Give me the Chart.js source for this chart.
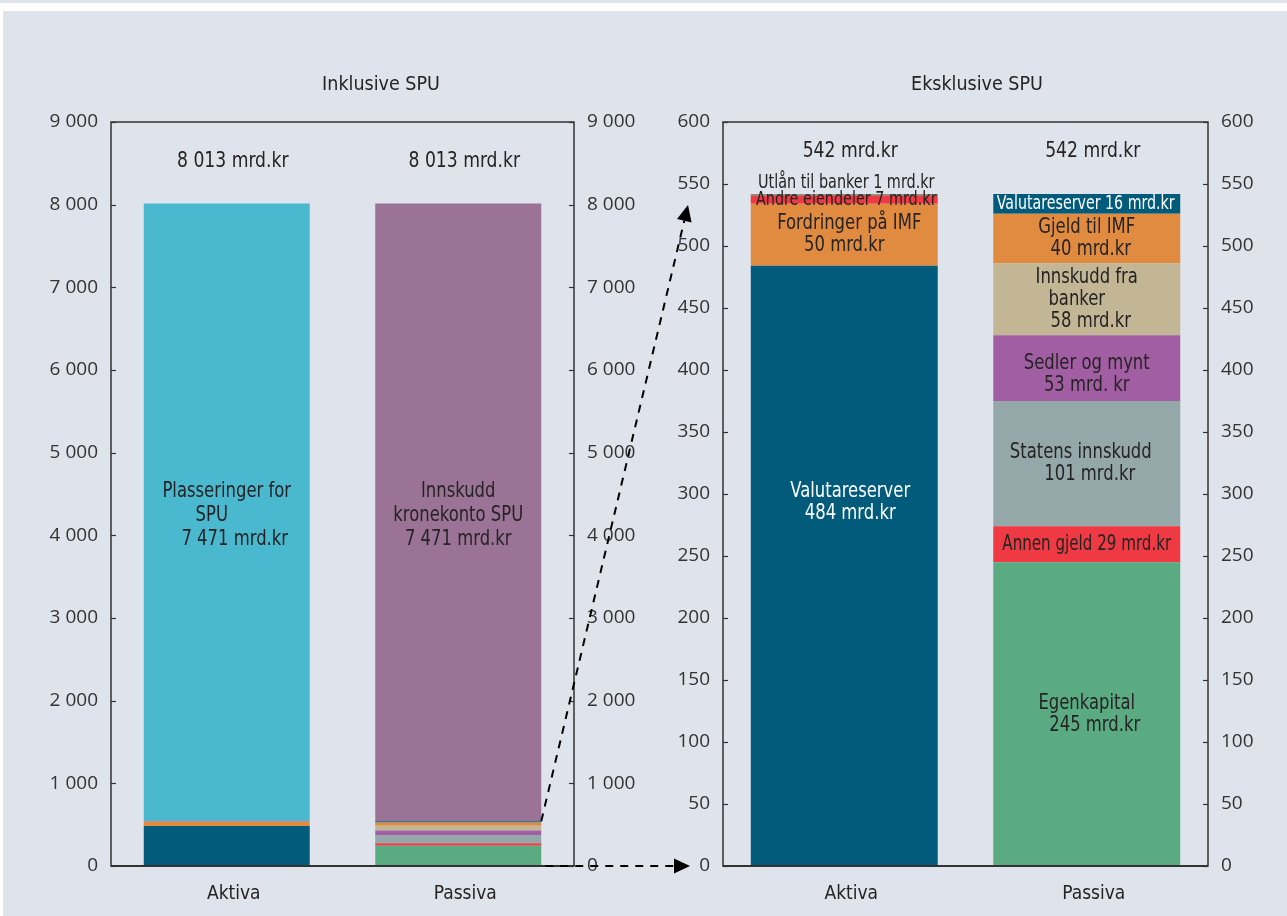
<!DOCTYPE html>
<html><head><meta charset="utf-8">
<script src="https://cdn.jsdelivr.net/npm/chart.js@4.4.1/dist/chart.umd.min.js"></script>
<style>
html,body{margin:0;padding:0;width:1287px;height:916px;overflow:hidden;background:#ffffff;}
#topstrip{position:absolute;left:0;top:0;width:1287px;height:3px;background:#dfe3ec;}
#bg{position:absolute;left:3px;top:11px;width:1284px;height:905px;background:#dfe3ec;}
canvas{position:absolute;top:0;}
</style></head><body>
<div id="topstrip"></div><div id="bg"></div>
<canvas id="c1" width="762" height="916" style="left:0px"></canvas>
<canvas id="c2" width="620" height="916" style="left:667px"></canvas>
<canvas id="ov" width="1287" height="916" style="left:0px"></canvas>
<script>
// ---------- DATA ----------
const categories = ['Aktiva', 'Passiva'];
const panelTitles = ['Inklusive SPU', 'Eksklusive SPU'];

// Aktiva components (mrd. kr), bottom to top
const aktivaNames  = ['Valutareserver', 'Fordringer på IMF', 'Andre eiendeler', 'Utlån til banker'];
const aktivaValues = [484, 50, 7, 1];
// Passiva components (mrd. kr), bottom to top
const passivaNames  = ['Egenkapital', 'Annen gjeld', 'Statens innskudd', 'Sedler og mynt', 'Innskudd fra banker', 'Gjeld til IMF', 'Valutareserver'];
const passivaValues = [245, 29, 101, 53, 58, 40, 16];
// SPU (mrd. kr)
const spuNames  = ['Plasseringer for SPU', 'Innskudd kronekonto SPU'];
const spuValues = [7471, 7471];

// Tick labels
const leftTickLabels  = ['0', '1 000', '2 000', '3 000', '4 000', '5 000', '6 000', '7 000', '8 000', '9 000'];
const rightTickLabels = ['0', '50', '100', '150', '200', '250', '300', '350', '400', '450', '500', '550', '600'];

// Bar label texts
const aktivaLabels = [['Valutareserver', '484 mrd.kr'], ['Fordringer på IMF', '50 mrd.kr'], ['Andre eiendeler 7 mrd.kr'], ['Utlån til banker 1 mrd.kr']];
const passivaLabels = [['Egenkapital', '245 mrd.kr'], ['Annen gjeld 29 mrd.kr'], ['Statens innskudd', '101 mrd.kr'], ['Sedler og mynt', '53 mrd. kr'], ['Innskudd fra', 'banker', '58 mrd.kr'], ['Gjeld til IMF', '40 mrd.kr'], ['Valutareserver 16 mrd.kr']];
const spuLabels = [['Plasseringer for', 'SPU', '7 471 mrd.kr'], ['Innskudd', 'kronekonto SPU', '7 471 mrd.kr']];

// ---------- STYLE ----------
const NARROW = "'Liberation Sans Narrow','Arial Narrow','DejaVu Sans Condensed','Roboto Condensed',sans-serif";
const TICKF = "'Open Sans',sans-serif";
const TXT = '#262324';
const aktivaColors  = ['#035b7c', '#e08b40', '#ef3a43', '#5aab82'];
const passivaColors = ['#5aab82', '#ef3a43', '#94a7a9', '#a25ea3', '#c2b695', '#e08b40', '#035b7c'];
const spuColors = ['#4ab8cf', '#9b7396'];
// label styles (offsets/colors/horizontal compression), same order as the components
const aktivaLabelStyle = [
  {color:'#ffffff', dy:-63, dx:[6,6]},
  {dx:[5,0]},
  {size:20, sx:0.8, dx:[2]},
  {size:20, sx:0.8, dx:[2], dy:-12}
];
const passivaLabelStyle = [
  {dx:[0,8]},
  {sx:0.8, dx:[0]},
  {dx:[-6,3]},
  {dy:6, dx:[0,0]},
  {dx:[0,-10,4]},
  {dx:[0,4]},
  {size:20, sx:0.79, color:'#ffffff', dx:[-1]}
];
const spuLabelStyle = [
  {dx:[0,-15,8], lh:24, dy:3},
  {dx:[0,0,0], lh:24, dy:3}
];

function makeDatasets(includeSpu) {
  const ds = [];
  aktivaValues.forEach((v, i) => ds.push({label: aktivaNames[i], data: [v, null], backgroundColor: aktivaColors[i], lines: aktivaLabels[i], lstyle: aktivaLabelStyle[i], showLabel: !includeSpu}));
  passivaValues.forEach((v, i) => ds.push({label: passivaNames[i], data: [null, v], backgroundColor: passivaColors[i], lines: passivaLabels[i], lstyle: passivaLabelStyle[i], showLabel: !includeSpu}));
  if (includeSpu) {
    ds.push({label: spuNames[0], data: [spuValues[0], null], backgroundColor: spuColors[0], lines: spuLabels[0], lstyle: spuLabelStyle[0], showLabel: true});
    ds.push({label: spuNames[1], data: [null, spuValues[1]], backgroundColor: spuColors[1], lines: spuLabels[1], lstyle: spuLabelStyle[1], showLabel: true});
  }
  return ds;
}

function fmtTotal(v) { return String(v).replace(/\B(?=(\d{3})+(?!\d))/g, ' ') + ' mrd.kr'; }

function drawScaledText(ctx, text, x, y, sx) {
  ctx.save();
  ctx.translate(x, y);
  ctx.scale(sx, 1);
  ctx.fillText(text, 0, 0);
  ctx.restore();
}

const framePlugin = {
  id: 'frame',
  afterDatasetsDraw(chart) {
    const {ctx, chartArea: a} = chart;
    ctx.save();
    ctx.strokeStyle = '#333333';
    ctx.lineWidth = 1.5;
    ctx.strokeRect(a.left, a.top, a.right - a.left, a.bottom - a.top);
    ctx.lineWidth = 2;
    ctx.beginPath(); ctx.moveTo(a.left, a.bottom); ctx.lineTo(a.right, a.bottom); ctx.stroke();
    // inward tick marks
    ctx.lineWidth = 1.2;
    ['y', 'y2'].forEach(id => {
      const s = chart.scales[id];
      s.ticks.forEach(t => {
        const py = Math.round(s.getPixelForValue(t.value)) + 0.5;
        ctx.beginPath();
        if (id === 'y') { ctx.moveTo(a.left, py); ctx.lineTo(a.left + 5, py); }
        else { ctx.moveTo(a.right, py); ctx.lineTo(a.right - 5, py); }
        ctx.stroke();
      });
    });
    ctx.restore();
  }
};

const labelPlugin = {
  id: 'barLabels',
  afterDatasetsDraw(chart) {
    const ctx = chart.ctx;
    ctx.save();
    ctx.textAlign = 'center';
    ctx.textBaseline = 'middle';
    chart.data.datasets.forEach((ds, di) => {
      if (!ds.showLabel) return;
      const meta = chart.getDatasetMeta(di);
      ds.data.forEach((v, j) => {
        if (v === null) return;
        const el = meta.data[j];
        const st = ds.lstyle || {};
        const size = st.size || 21;
        const lh = st.lh || 22;
        ctx.font = size + 'px ' + NARROW;
        ctx.fillStyle = st.color || TXT;
        const cy = (el.y + el.base) / 2 + (st.dy || 0);
        const n = ds.lines.length;
        ds.lines.forEach((line, k) => {
          const dx = (st.dx && st.dx[k]) || 0;
          drawScaledText(ctx, line, el.x + dx, cy + (k - (n - 1) / 2) * lh, st.sx || 0.87);
        });
      });
    });
    // totals above the bars
    const ys = chart.scales.y;
    ctx.font = '21px ' + NARROW;
    ctx.fillStyle = TXT;
    categories.forEach((c, j) => {
      let total = 0;
      chart.data.datasets.forEach(ds => { if (ds.data[j] !== null) total += ds.data[j]; });
      const x = chart.scales.x.getPixelForValue(j);
      drawScaledText(ctx, fmtTotal(total), x + 6, ys.getPixelForValue(total) - 42, 0.91);
    });
    ctx.restore();
  }
};

function makeChart(canvasId, includeSpu, max, step, tickLabels, canvasW, areaLeft, areaRight, barPct, title) {
  const tickFont = {family: TICKF, size: 19};
  const yCommon = (pos, width) => ({
    position: pos, min: 0, max: max, stacked: pos === 'left',
    grid: {display: false, drawTicks: false},
    border: {display: false},
    ticks: {stepSize: step, padding: 13, color: '#333333', font: tickFont,
            callback: (v, i) => tickLabels[i]},
    afterFit(s) { s.width = width; }
  });
  return new Chart(document.getElementById(canvasId), {
    type: 'bar',
    data: {labels: categories, datasets: makeDatasets(includeSpu)},
    options: {
      responsive: false, animation: false,
      layout: {padding: {top: 0, left: 0, right: 0, bottom: 0}},
      datasets: {bar: {categoryPercentage: 1, barPercentage: barPct, borderWidth: 0}},
      plugins: {
        legend: {display: false}, tooltip: {enabled: false},
        title: {display: true, text: title, color: TXT, font: {family: NARROW, size: 19.5, weight: 'normal', lineHeight: 1.2}, padding: {top: 73, bottom: 25.6}}
      },
      scales: {
        x: {stacked: true, grid: {display: false, drawTicks: false}, border: {display: false},
            ticks: {padding: 17, labelOffset: 7, color: TXT, font: {family: NARROW, size: 19}},
            afterFit(s) { s.height = 50; }},
        y: yCommon('left', areaLeft),
        y2: yCommon('right', canvasW - areaRight)
      }
    },
    plugins: [framePlugin, labelPlugin]
  });
}

const chart1 = makeChart('c1', true, 9000, 1000, leftTickLabels, 762, 111, 574, 0.717, panelTitles[0]);
const chart2 = makeChart('c2', false, 600, 50, rightTickLabels, 620, 723 - 667, 1208 - 667, 0.771, panelTitles[1]);

// ---------- connecting arrows ----------
(function drawArrows() {
  const ov = document.getElementById('ov');
  const ctx = ov.getContext('2d');
  const off1 = 0, off2 = 667;
  const idx = aktivaValues.length + passivaValues.length - 1; // top of passiva (excl. SPU)
  const el = chart1.getDatasetMeta(idx).data[1];
  const sx = off1 + el.x + el.width / 2;
  const sy = el.y;
  const y0 = chart1.scales.y.getPixelForValue(0);
  const ex = off2 + chart2.chartArea.left - 37;
  const ey = chart2.scales.y.getPixelForValue(533);
  const ey0 = chart2.scales.y.getPixelForValue(0);
  function arrow(x1, y1, x2, y2) {
    const ang = Math.atan2(y2 - y1, x2 - x1);
    const L = 16, W = 7.5;
    const bx = x2 - L * Math.cos(ang), by = y2 - L * Math.sin(ang);
    ctx.save();
    ctx.strokeStyle = '#000'; ctx.lineWidth = 2; ctx.setLineDash([8, 7]);
    ctx.beginPath(); ctx.moveTo(x1, y1); ctx.lineTo(bx, by); ctx.stroke();
    ctx.setLineDash([]);
    ctx.fillStyle = '#000';
    ctx.beginPath();
    ctx.moveTo(x2, y2);
    ctx.lineTo(bx + W * Math.sin(ang), by - W * Math.cos(ang));
    ctx.lineTo(bx - W * Math.sin(ang), by + W * Math.cos(ang));
    ctx.closePath(); ctx.fill();
    ctx.restore();
  }
  arrow(sx, sy, ex + 2, ey);
  arrow(sx + 4, y0, ex + 4, ey0);
})();
</script>
</body></html>
